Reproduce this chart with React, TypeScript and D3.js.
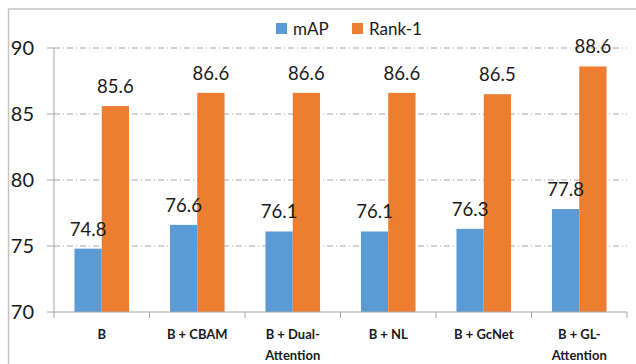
import React from "react";
import * as d3 from "d3";

const categories: string[][] = [
  ["B"],
  ["B + CBAM"],
  ["B + Dual-", "Attention"],
  ["B + NL"],
  ["B + GcNet"],
  ["B + GL-", "Attention"],
];
const mAP = [74.8, 76.6, 76.1, 76.1, 76.3, 77.8];
const rank1 = [85.6, 86.6, 86.6, 86.6, 86.5, 88.6];
const seriesNames = ["mAP", "Rank-1"];
const seriesColors = ["#5B9BD5", "#ED7D31"];
const yTicks = [70, 75, 80, 85, 90];

const W = 636;
const H = 364;
const left = 54;
const right = 627;
const top = 48;
const bottom = 312;
const FONT = "Lato, 'Liberation Sans', sans-serif";

export default function App() {
  const x = d3
    .scaleBand<number>()
    .domain(d3.range(categories.length))
    .range([left, right])
    .paddingInner(0)
    .paddingOuter(0);
  const y = d3.scaleLinear().domain([70, 90]).range([bottom, top]);
  const inner = d3
    .scaleBand<number>()
    .domain([0, 1])
    .range([0, x.bandwidth()])
    .paddingInner(0)
    .paddingOuter(0.75);
  const values = [mAP, rank1];

  return (
    <svg
      width={W}
      height={H}
      style={{ position: "absolute", left: 0, top: 0, background: "#fff" }}
    >
      <rect x={8.5} y={9} width={W + 10} height={H + 10} fill="none" stroke="#c4c4c4" strokeWidth={1.5} />

      {/* grid lines */}
      {yTicks
        .filter((t) => t !== 70)
        .map((t) => (
          <line
            key={t}
            x1={left}
            x2={right}
            y1={y(t)}
            y2={y(t)}
            stroke="#a6a6a6"
            strokeWidth={1}
            strokeDasharray="6 3 1 3"
          />
        ))}

      {/* bars */}
      {values.map((vals, s) =>
        vals.map((v, i) => (
          <rect
            key={`${s}-${i}`}
            x={(x(i) as number) + (inner(s) as number)}
            y={y(v)}
            width={inner.bandwidth()}
            height={bottom - y(v)}
            fill={seriesColors[s]}
          />
        ))
      )}

      {/* value labels */}
      {values.map((vals, s) =>
        vals.map((v, i) => (
          <text
            key={`l-${s}-${i}`}
            x={(x(i) as number) + (inner(s) as number) + inner.bandwidth() / 2}
            y={y(v) - 13}
            textAnchor="middle"
            fontFamily={FONT}
            fontSize={18.5}
            fill="#1a1a1a"
          >
            {v.toFixed(1)}
          </text>
        ))
      )}

      {/* y axis */}
      <line x1={left} x2={left} y1={top} y2={bottom} stroke="#a6a6a6" strokeWidth={1} />
      {yTicks.map((t) => (
        <g key={`yt-${t}`}>
          <line x1={left - 7} x2={left} y1={y(t)} y2={y(t)} stroke="#a6a6a6" strokeWidth={1} />
          <text
            x={34}
            y={y(t) + 7}
            textAnchor="end"
            fontFamily={FONT}
            fontSize={20}
            fill="#1a1a1a"
          >
            {t}
          </text>
        </g>
      ))}

      {/* x axis */}
      <line x1={left} x2={right} y1={bottom} y2={bottom} stroke="#a6a6a6" strokeWidth={1} />
      {d3.range(categories.length + 1).map((i) => {
        const xx = left + i * x.step();
        return (
          <line key={`xt-${i}`} x1={xx} x2={xx} y1={bottom} y2={bottom + 6} stroke="#a6a6a6" strokeWidth={1} />
        );
      })}
      {categories.map((lines, i) => (
        <text
          key={`c-${i}`}
          x={(x(i) as number) + x.bandwidth() / 2}
          y={339}
          textAnchor="middle"
          fontFamily={FONT}
          fontSize={13}
          fontWeight="bold"
          fill="#1a1a1a"
        >
          {lines.map((ln, k) => (
            <tspan key={k} x={(x(i) as number) + x.bandwidth() / 2} dy={k === 0 ? 0 : 21}>
              {ln}
            </tspan>
          ))}
        </text>
      ))}

      {/* legend */}
      {seriesNames.map((name, s) => {
        const lx = s === 0 ? 276 : 352;
        return (
          <g key={name}>
            <rect x={lx} y={23} width={11} height={11} fill={seriesColors[s]} />
            <text x={lx + 17} y={35} fontFamily={FONT} fontSize={17} fill="#1a1a1a">
              {name}
            </text>
          </g>
        );
      })}
    </svg>
  );
}
